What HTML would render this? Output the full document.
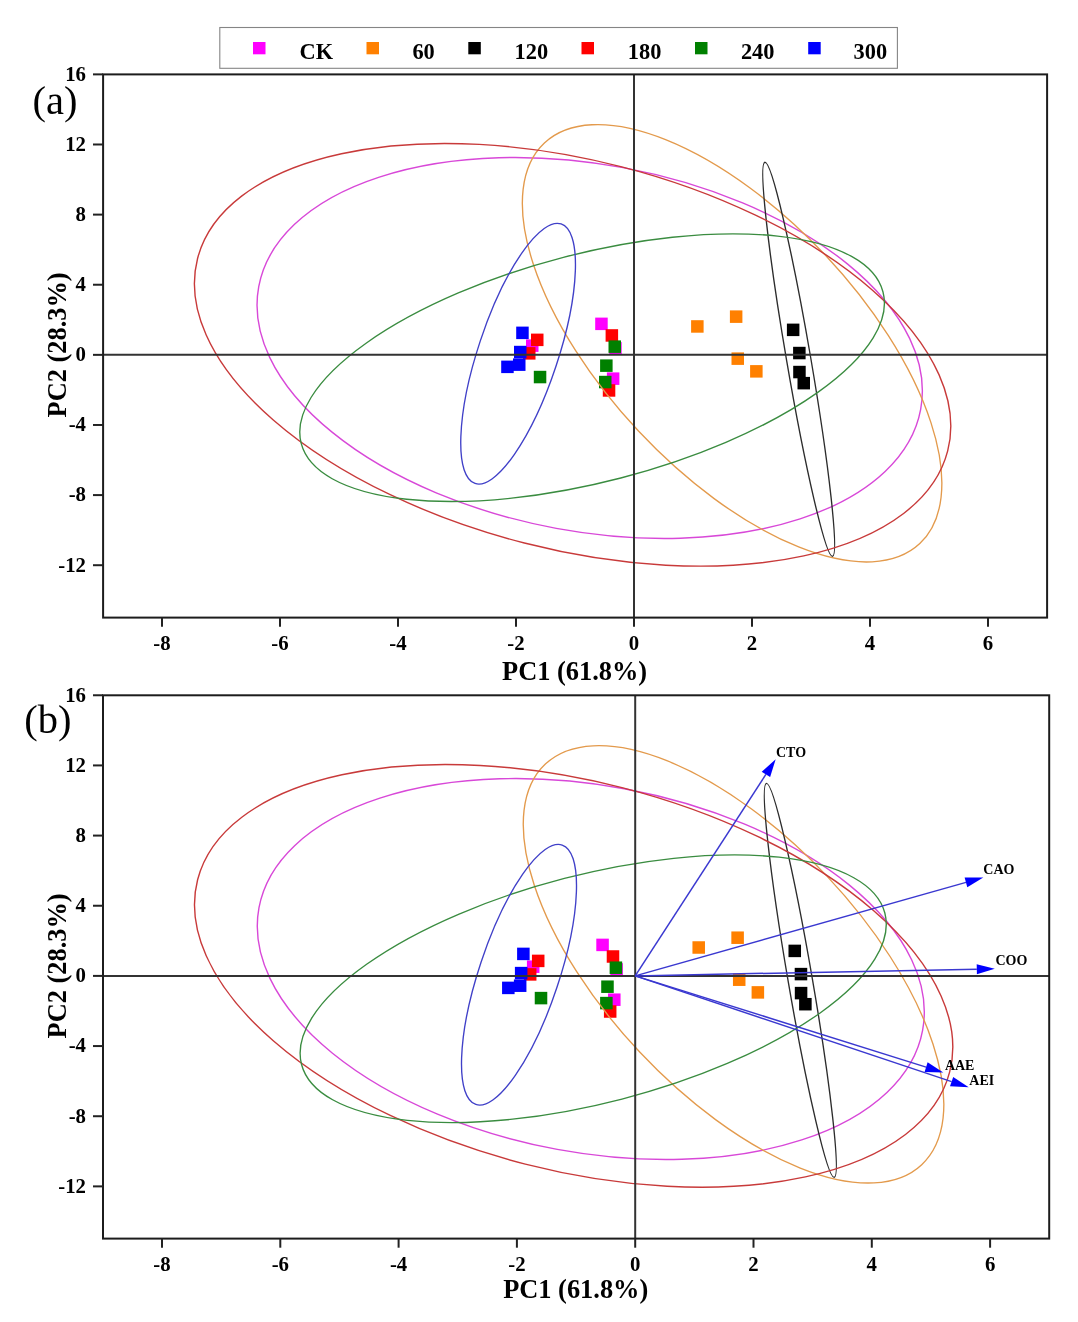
<!DOCTYPE html>
<html><head><meta charset="utf-8"><style>
html,body{margin:0;padding:0;background:#fff;}
svg{display:block;will-change:transform;}
text{font-family:"Liberation Serif",serif;fill:#000;}
.tk{font-size:20.8px;font-weight:bold;}
.lg{font-size:22.4px;font-weight:bold;}
.ax{font-size:26.4px;font-weight:bold;}
.pl{font-size:40.5px;}
.ar{font-size:14px;font-weight:bold;}
</style></head><body>
<svg width="1078" height="1322" viewBox="0 0 1078 1322">
<rect width="1078" height="1322" fill="#fff"/>
<g transform="translate(0,0)"><rect x="526.0" y="339.4" width="12.5" height="12.5" fill="#ff00ff"/>
<rect x="595.2" y="317.6" width="12.5" height="12.5" fill="#ff00ff"/>
<rect x="609.2" y="342.1" width="12.5" height="12.5" fill="#ff00ff"/>
<rect x="606.9" y="372.4" width="12.5" height="12.5" fill="#ff00ff"/>
<rect x="691.1" y="320.2" width="12.5" height="12.5" fill="#ff8000"/>
<rect x="729.9" y="310.4" width="12.5" height="12.5" fill="#ff8000"/>
<rect x="731.5" y="352.4" width="12.5" height="12.5" fill="#ff8000"/>
<rect x="750.1" y="365.1" width="12.5" height="12.5" fill="#ff8000"/>
<rect x="786.9" y="323.6" width="12.5" height="12.5" fill="#000000"/>
<rect x="793.1" y="346.8" width="12.5" height="12.5" fill="#000000"/>
<rect x="793.2" y="365.8" width="12.5" height="12.5" fill="#000000"/>
<rect x="797.5" y="376.9" width="12.5" height="12.5" fill="#000000"/>
<rect x="531.0" y="333.6" width="12.5" height="12.5" fill="#ff0000"/>
<rect x="523.0" y="347.1" width="12.5" height="12.5" fill="#ff0000"/>
<rect x="605.6" y="329.2" width="12.5" height="12.5" fill="#ff0000"/>
<rect x="602.8" y="384.2" width="12.5" height="12.5" fill="#ff0000"/>
<rect x="533.8" y="370.8" width="12.5" height="12.5" fill="#008000"/>
<rect x="608.5" y="340.4" width="12.5" height="12.5" fill="#008000"/>
<rect x="600.1" y="359.4" width="12.5" height="12.5" fill="#008000"/>
<rect x="599.0" y="375.8" width="12.5" height="12.5" fill="#008000"/>
<rect x="516.2" y="326.6" width="12.5" height="12.5" fill="#0000ff"/>
<rect x="514.0" y="345.8" width="12.5" height="12.5" fill="#0000ff"/>
<rect x="513.0" y="358.4" width="12.5" height="12.5" fill="#0000ff"/>
<rect x="501.2" y="360.6" width="12.5" height="12.5" fill="#0000ff"/>
<ellipse cx="589.7" cy="348.0" rx="336.6" ry="183.4" transform="rotate(-169.5 589.7 348.0)" fill="none" stroke="#d848d8" stroke-width="1.4"/>
<ellipse cx="732.1" cy="343.3" rx="274.5" ry="128.3" transform="rotate(-133.14 732.1 343.3)" fill="none" stroke="#e39a4c" stroke-width="1.35"/>
<ellipse cx="798.7" cy="359.3" rx="12.1" ry="199.9" transform="rotate(170.26 798.7 359.3)" fill="none" stroke="#2c2c2c" stroke-width="1.35"/>
<ellipse cx="572.6" cy="354.8" rx="194.3" ry="387.2" transform="rotate(104.37 572.6 354.8)" fill="none" stroke="#c83a3a" stroke-width="1.4"/>
<ellipse cx="592.1" cy="367.7" rx="300.6" ry="114.0" transform="rotate(165.41 592.1 367.7)" fill="none" stroke="#3a8c40" stroke-width="1.35"/>
<ellipse cx="518.1" cy="353.7" rx="39.9" ry="136.7" transform="rotate(-161.63 518.1 353.7)" fill="none" stroke="#4040c8" stroke-width="1.35"/></g>
<line x1="103.1" y1="354.85" x2="1047.1" y2="354.85" stroke="#333" stroke-width="2"/>
<line x1="634.0" y1="74.4" x2="634.0" y2="617.6" stroke="#333" stroke-width="2"/>
<rect x="103.1" y="74.4" width="944.00" height="543.20" fill="none" stroke="#1c1c1c" stroke-width="2"/>
<line x1="93" y1="565.21" x2="103.1" y2="565.21" stroke="#222" stroke-width="2"/>
<text x="86" y="571.61" class="tk" text-anchor="end">-12</text>
<line x1="93" y1="495.09" x2="103.1" y2="495.09" stroke="#222" stroke-width="2"/>
<text x="86" y="501.49" class="tk" text-anchor="end">-8</text>
<line x1="93" y1="424.97" x2="103.1" y2="424.97" stroke="#222" stroke-width="2"/>
<text x="86" y="431.37" class="tk" text-anchor="end">-4</text>
<line x1="93" y1="354.85" x2="103.1" y2="354.85" stroke="#222" stroke-width="2"/>
<text x="86" y="361.25" class="tk" text-anchor="end">0</text>
<line x1="93" y1="284.73" x2="103.1" y2="284.73" stroke="#222" stroke-width="2"/>
<text x="86" y="291.13" class="tk" text-anchor="end">4</text>
<line x1="93" y1="214.61" x2="103.1" y2="214.61" stroke="#222" stroke-width="2"/>
<text x="86" y="221.01" class="tk" text-anchor="end">8</text>
<line x1="93" y1="144.49" x2="103.1" y2="144.49" stroke="#222" stroke-width="2"/>
<text x="86" y="150.89" class="tk" text-anchor="end">12</text>
<line x1="93" y1="74.37" x2="103.1" y2="74.37" stroke="#222" stroke-width="2"/>
<text x="86" y="80.77" class="tk" text-anchor="end">16</text>
<line x1="162.00" y1="617.6" x2="162.00" y2="626.7" stroke="#222" stroke-width="2"/>
<text x="162.00" y="650.0" class="tk" text-anchor="middle">-8</text>
<line x1="280.00" y1="617.6" x2="280.00" y2="626.7" stroke="#222" stroke-width="2"/>
<text x="280.00" y="650.0" class="tk" text-anchor="middle">-6</text>
<line x1="398.00" y1="617.6" x2="398.00" y2="626.7" stroke="#222" stroke-width="2"/>
<text x="398.00" y="650.0" class="tk" text-anchor="middle">-4</text>
<line x1="516.00" y1="617.6" x2="516.00" y2="626.7" stroke="#222" stroke-width="2"/>
<text x="516.00" y="650.0" class="tk" text-anchor="middle">-2</text>
<line x1="634.00" y1="617.6" x2="634.00" y2="626.7" stroke="#222" stroke-width="2"/>
<text x="634.00" y="650.0" class="tk" text-anchor="middle">0</text>
<line x1="752.00" y1="617.6" x2="752.00" y2="626.7" stroke="#222" stroke-width="2"/>
<text x="752.00" y="650.0" class="tk" text-anchor="middle">2</text>
<line x1="870.00" y1="617.6" x2="870.00" y2="626.7" stroke="#222" stroke-width="2"/>
<text x="870.00" y="650.0" class="tk" text-anchor="middle">4</text>
<line x1="988.00" y1="617.6" x2="988.00" y2="626.7" stroke="#222" stroke-width="2"/>
<text x="988.00" y="650.0" class="tk" text-anchor="middle">6</text>
<g transform="translate(635.2,975.9) scale(1.00254,1) translate(-634.0,-354.85)"><rect x="526.0" y="339.4" width="12.5" height="12.5" fill="#ff00ff"/>
<rect x="595.2" y="317.6" width="12.5" height="12.5" fill="#ff00ff"/>
<rect x="609.2" y="342.1" width="12.5" height="12.5" fill="#ff00ff"/>
<rect x="606.9" y="372.4" width="12.5" height="12.5" fill="#ff00ff"/>
<rect x="691.1" y="320.2" width="12.5" height="12.5" fill="#ff8000"/>
<rect x="729.9" y="310.4" width="12.5" height="12.5" fill="#ff8000"/>
<rect x="731.5" y="352.4" width="12.5" height="12.5" fill="#ff8000"/>
<rect x="750.1" y="365.1" width="12.5" height="12.5" fill="#ff8000"/>
<rect x="786.9" y="323.6" width="12.5" height="12.5" fill="#000000"/>
<rect x="793.1" y="346.8" width="12.5" height="12.5" fill="#000000"/>
<rect x="793.2" y="365.8" width="12.5" height="12.5" fill="#000000"/>
<rect x="797.5" y="376.9" width="12.5" height="12.5" fill="#000000"/>
<rect x="531.0" y="333.6" width="12.5" height="12.5" fill="#ff0000"/>
<rect x="523.0" y="347.1" width="12.5" height="12.5" fill="#ff0000"/>
<rect x="605.6" y="329.2" width="12.5" height="12.5" fill="#ff0000"/>
<rect x="602.8" y="384.2" width="12.5" height="12.5" fill="#ff0000"/>
<rect x="533.8" y="370.8" width="12.5" height="12.5" fill="#008000"/>
<rect x="608.5" y="340.4" width="12.5" height="12.5" fill="#008000"/>
<rect x="600.1" y="359.4" width="12.5" height="12.5" fill="#008000"/>
<rect x="599.0" y="375.8" width="12.5" height="12.5" fill="#008000"/>
<rect x="516.2" y="326.6" width="12.5" height="12.5" fill="#0000ff"/>
<rect x="514.0" y="345.8" width="12.5" height="12.5" fill="#0000ff"/>
<rect x="513.0" y="358.4" width="12.5" height="12.5" fill="#0000ff"/>
<rect x="501.2" y="360.6" width="12.5" height="12.5" fill="#0000ff"/>
<ellipse cx="589.7" cy="348.0" rx="336.6" ry="183.4" transform="rotate(-169.5 589.7 348.0)" fill="none" stroke="#d848d8" stroke-width="1.4"/>
<ellipse cx="732.1" cy="343.3" rx="274.5" ry="128.3" transform="rotate(-133.14 732.1 343.3)" fill="none" stroke="#e39a4c" stroke-width="1.35"/>
<ellipse cx="798.7" cy="359.3" rx="12.1" ry="199.9" transform="rotate(170.26 798.7 359.3)" fill="none" stroke="#2c2c2c" stroke-width="1.35"/>
<ellipse cx="572.6" cy="354.8" rx="194.3" ry="387.2" transform="rotate(104.37 572.6 354.8)" fill="none" stroke="#c83a3a" stroke-width="1.4"/>
<ellipse cx="592.1" cy="367.7" rx="300.6" ry="114.0" transform="rotate(165.41 592.1 367.7)" fill="none" stroke="#3a8c40" stroke-width="1.35"/>
<ellipse cx="518.1" cy="353.7" rx="39.9" ry="136.7" transform="rotate(-161.63 518.1 353.7)" fill="none" stroke="#4040c8" stroke-width="1.35"/></g>
<line x1="103.0" y1="975.9" x2="1049.2" y2="975.9" stroke="#333" stroke-width="2"/>
<line x1="635.2" y1="695.3" x2="635.2" y2="1238.6" stroke="#333" stroke-width="2"/>
<rect x="103.0" y="695.3" width="946.20" height="543.30" fill="none" stroke="#1c1c1c" stroke-width="2"/>
<line x1="93" y1="1186.38" x2="103.0" y2="1186.38" stroke="#222" stroke-width="2"/>
<text x="86" y="1192.78" class="tk" text-anchor="end">-12</text>
<line x1="93" y1="1116.22" x2="103.0" y2="1116.22" stroke="#222" stroke-width="2"/>
<text x="86" y="1122.62" class="tk" text-anchor="end">-8</text>
<line x1="93" y1="1046.06" x2="103.0" y2="1046.06" stroke="#222" stroke-width="2"/>
<text x="86" y="1052.46" class="tk" text-anchor="end">-4</text>
<line x1="93" y1="975.90" x2="103.0" y2="975.90" stroke="#222" stroke-width="2"/>
<text x="86" y="982.30" class="tk" text-anchor="end">0</text>
<line x1="93" y1="905.74" x2="103.0" y2="905.74" stroke="#222" stroke-width="2"/>
<text x="86" y="912.14" class="tk" text-anchor="end">4</text>
<line x1="93" y1="835.58" x2="103.0" y2="835.58" stroke="#222" stroke-width="2"/>
<text x="86" y="841.98" class="tk" text-anchor="end">8</text>
<line x1="93" y1="765.42" x2="103.0" y2="765.42" stroke="#222" stroke-width="2"/>
<text x="86" y="771.82" class="tk" text-anchor="end">12</text>
<line x1="93" y1="695.26" x2="103.0" y2="695.26" stroke="#222" stroke-width="2"/>
<text x="86" y="701.66" class="tk" text-anchor="end">16</text>
<line x1="162.00" y1="1238.6" x2="162.00" y2="1247.7" stroke="#222" stroke-width="2"/>
<text x="162.00" y="1271.0" class="tk" text-anchor="middle">-8</text>
<line x1="280.30" y1="1238.6" x2="280.30" y2="1247.7" stroke="#222" stroke-width="2"/>
<text x="280.30" y="1271.0" class="tk" text-anchor="middle">-6</text>
<line x1="398.60" y1="1238.6" x2="398.60" y2="1247.7" stroke="#222" stroke-width="2"/>
<text x="398.60" y="1271.0" class="tk" text-anchor="middle">-4</text>
<line x1="516.90" y1="1238.6" x2="516.90" y2="1247.7" stroke="#222" stroke-width="2"/>
<text x="516.90" y="1271.0" class="tk" text-anchor="middle">-2</text>
<line x1="635.20" y1="1238.6" x2="635.20" y2="1247.7" stroke="#222" stroke-width="2"/>
<text x="635.20" y="1271.0" class="tk" text-anchor="middle">0</text>
<line x1="753.50" y1="1238.6" x2="753.50" y2="1247.7" stroke="#222" stroke-width="2"/>
<text x="753.50" y="1271.0" class="tk" text-anchor="middle">2</text>
<line x1="871.80" y1="1238.6" x2="871.80" y2="1247.7" stroke="#222" stroke-width="2"/>
<text x="871.80" y="1271.0" class="tk" text-anchor="middle">4</text>
<line x1="990.10" y1="1238.6" x2="990.10" y2="1247.7" stroke="#222" stroke-width="2"/>
<text x="990.10" y="1271.0" class="tk" text-anchor="middle">6</text>
<line x1="635.2" y1="975.9" x2="765.9" y2="774.4" stroke="#3a38d0" stroke-width="1.5"/><polygon points="775.7,759.3 770.1,777.1 761.7,771.7" fill="#0000ff"/><text x="776" y="756.5" class="ar">CTO</text><line x1="635.2" y1="975.9" x2="966.0" y2="882.4" stroke="#3a38d0" stroke-width="1.5"/><polygon points="983.3,877.5 967.3,887.2 964.6,877.6" fill="#0000ff"/><text x="983.3" y="874.1" class="ar">CAO</text><line x1="635.2" y1="975.9" x2="976.8" y2="969.2" stroke="#3a38d0" stroke-width="1.5"/><polygon points="994.8,968.8 976.9,974.2 976.7,964.2" fill="#0000ff"/><text x="995.4" y="964.6" class="ar">COO</text><line x1="635.2" y1="975.9" x2="926.1" y2="1067.1" stroke="#3a38d0" stroke-width="1.5"/><polygon points="943.3,1072.5 924.6,1071.9 927.6,1062.3" fill="#0000ff"/><text x="944.9" y="1070" class="ar">AAE</text><line x1="635.2" y1="975.9" x2="951.6" y2="1081.6" stroke="#3a38d0" stroke-width="1.5"/><polygon points="968.7,1087.3 950.0,1086.3 953.2,1076.9" fill="#0000ff"/><text x="969.3" y="1084.5" class="ar">AEI</text>
<rect x="219.8" y="27.5" width="677.6" height="40.8" fill="#fff" stroke="#858585" stroke-width="1.1"/><rect x="253" y="42" width="12.5" height="12.3" fill="#ff00ff"/><text transform="translate(299.5,59.3) scale(1,1.07)" class="lg">CK</text><rect x="366.5" y="42" width="12.5" height="12.3" fill="#ff8000"/><text transform="translate(412.4,59.3) scale(1,1.07)" class="lg">60</text><rect x="468.3" y="42" width="12.5" height="12.3" fill="#000000"/><text transform="translate(514.6,59.3) scale(1,1.07)" class="lg">120</text><rect x="581.5" y="42" width="12.5" height="12.3" fill="#ff0000"/><text transform="translate(627.8,59.3) scale(1,1.07)" class="lg">180</text><rect x="695" y="42" width="12.5" height="12.3" fill="#008000"/><text transform="translate(740.9,59.3) scale(1,1.07)" class="lg">240</text><rect x="808.2" y="42" width="12.5" height="12.3" fill="#0000ff"/><text transform="translate(853.6,59.3) scale(1,1.07)" class="lg">300</text>
<text x="32.5" y="114" class="pl">(a)</text>
<text x="24.2" y="733.4" class="pl">(b)</text>
<text transform="translate(574.6,679.6) scale(1,1.05)" class="ax" text-anchor="middle">PC1 (61.8%)</text>
<text transform="translate(575.7,1298.2) scale(1,1.05)" class="ax" text-anchor="middle">PC1 (61.8%)</text>
<text transform="translate(65.7,344.9) rotate(-90) scale(1,1.05)" class="ax" text-anchor="middle">PC2 (28.3%)</text>
<text transform="translate(65.7,965.9) rotate(-90) scale(1,1.05)" class="ax" text-anchor="middle">PC2 (28.3%)</text>
</svg>
</body></html>
